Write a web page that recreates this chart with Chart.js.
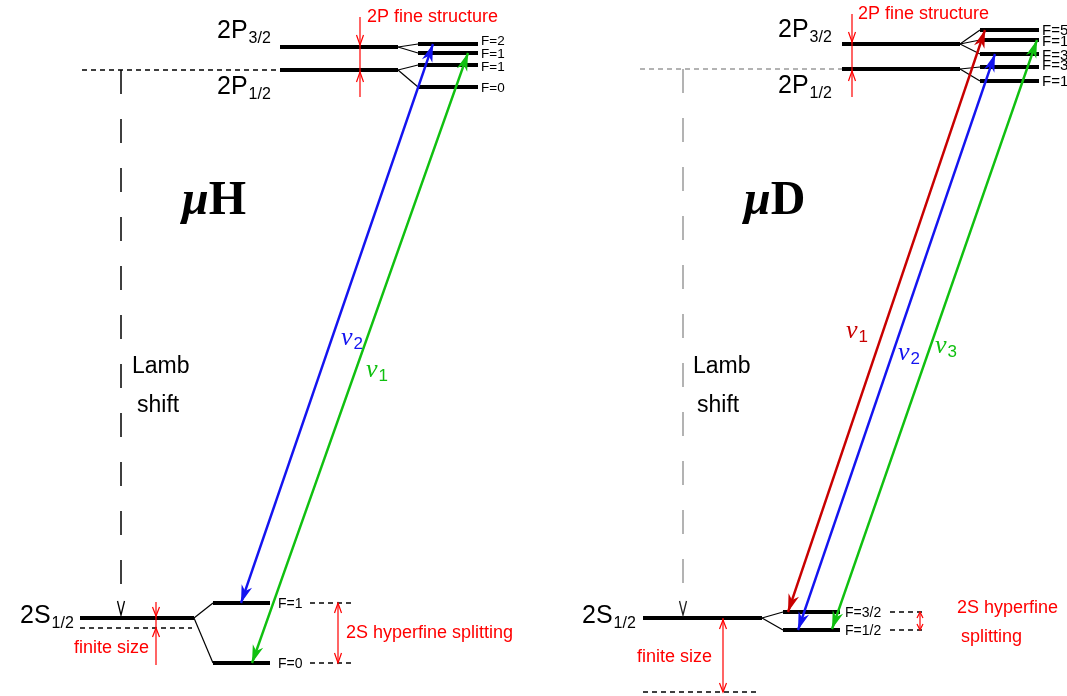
<!DOCTYPE html>
<html>
<head>
<meta charset="utf-8">
<script src="https://cdn.jsdelivr.net/npm/chart.js@4/dist/chart.umd.min.js"></script>
<style>
  html, body { margin: 0; padding: 0; background: #fff; }
  canvas { display: block; }
</style>
</head>
<body>
<canvas id="levels" width="1067" height="696"></canvas>
<script>
// ---- muonic hydrogen (left) ----
// levels are [xStart, xEnd, y]
const hPFine = [[280, 398, 47], [280, 398, 70]];
const hPHfs = [[418, 478, 44], [418, 478, 53], [418, 478, 65], [418, 478, 87]];
const hPHfsParent = [0, 0, 1, 1];
const hPHfsLabels = ['F=2', 'F=1', 'F=1', 'F=0'];
const hS = [80, 194, 618];
const hSPoint = [80, 192, 628];
const hSHfs = [[213, 270, 603], [213, 270, 663]];
const hSHfsLabels = ['F=1', 'F=0'];
// transitions [x2S, y2S, x2P, y2P]
const hTransitions = [[241, 603, 433, 44], [252, 663, 468, 53]];
const hTransitionIdx = ['2', '1'];

// ---- muonic deuterium (right) ----
const dPFine = [[842, 960, 44], [842, 960, 69]];
const dPHfs = [[980, 1039, 30], [980, 1039, 40], [980, 1039, 54], [980, 1039, 67], [980, 1039, 81]];
const dPHfsParent = [0, 0, 0, 1, 1];
const dPHfsLabels = ['F=5/2', 'F=1/2', 'F=3/2', 'F=3/2', 'F=1/2'];
const dS = [643, 762, 618];
const dSPoint = [643, 757, 692];
const dSHfs = [[783, 840, 612], [783, 840, 630]];
const dSHfsLabels = ['F=3/2', 'F=1/2'];
const dTransitions = [[788, 612, 985, 30], [798, 630, 995, 54], [832, 629, 1037, 40]];
const dTransitionIdx = ['1', '2', '3'];

const BLUE = '#1414f0';
const GREEN = '#10c010';
const DARKRED = '#c80000';
const RED = '#ff0000';
const GREY = '#9a9a9a';
const SANS = '"Liberation Sans", Arial, sans-serif';
const SERIF = '"Liberation Serif", "Times New Roman", serif';

const hColors = [BLUE, GREEN];
const dColors = [DARKRED, BLUE, GREEN];

// one dataset per straight segment
const seg = (x1, y1, x2, y2, color, width, dash) => ({
  data: [{ x: x1, y: y1 }, { x: x2, y: y2 }],
  showLine: true,
  borderColor: color,
  borderWidth: width,
  borderDash: dash || [],
  borderCapStyle: 'butt',
  pointRadius: 0,
  pointHoverRadius: 0,
  fill: false,
  tension: 0,
});

const datasets = [];

// transitions on top
hTransitions.forEach((t, i) => datasets.push(seg(t[0], t[1], t[2], t[3], hColors[i], 2.4)));
dTransitions.forEach((t, i) => datasets.push(seg(t[0], t[1], t[2], t[3], dColors[i], 2.4)));

// red size markers
datasets.push(seg(360, 17, 360, 97, RED, 1.2));
datasets.push(seg(156, 602, 156, 665, RED, 1.2));
datasets.push(seg(338, 603, 338, 663, RED, 1.2));
datasets.push(seg(852, 14, 852, 97, RED, 1.2));
datasets.push(seg(723, 618, 723, 692, RED, 1.2));
datasets.push(seg(920, 612, 920, 630, RED, 1.2));

const addLevels = (levels) => levels.forEach(l => datasets.push(seg(l[0], l[2], l[1], l[2], '#000', 4)));
const addFans = (parents, children, parentIdx) =>
  children.forEach((c, i) => {
    const p = parents[parentIdx[i]];
    datasets.push(seg(p[1], p[2], c[0], c[2], '#000', 1.2));
  });

addLevels(hPFine); addLevels(hPHfs); addLevels([hS]); addLevels(hSHfs);
addLevels(dPFine); addLevels(dPHfs); addLevels([dS]); addLevels(dSHfs);
addFans(hPFine, hPHfs, hPHfsParent);
addFans([hS], hSHfs, [0, 0]);
addFans(dPFine, dPHfs, dPHfsParent);
addFans([dS], dSHfs, [0, 0]);

// dashed guides
const dash = [5, 4];
datasets.push(seg(82, hPFine[1][2], hPFine[1][0], hPFine[1][2], '#000', 1.4, dash));
datasets.push(seg(hSPoint[0], hSPoint[2], hSPoint[1], hSPoint[2], '#000', 1.4, dash));
hSHfs.forEach(l => datasets.push(seg(310, l[2], 353, l[2], '#000', 1.4, dash)));
datasets.push(seg(640, dPFine[1][2], dPFine[1][0], dPFine[1][2], GREY, 1.4, dash));
datasets.push(seg(dSPoint[0], dSPoint[2], dSPoint[1], dSPoint[2], '#000', 1.4, dash));
dSHfs.forEach(l => datasets.push(seg(890, l[2], 926, l[2], '#000', 1.4, dash)));

// Lamb shift verticals
datasets.push(seg(121, hPFine[1][2], 121, 604, '#000', 1.5, [24, 25]));
datasets.push(seg(683, dPFine[1][2], 683, 604, GREY, 1.5, [24, 25]));

function drawText(ctx, s, x, y, font, color, align) {
  ctx.font = font;
  ctx.fillStyle = color;
  ctx.textAlign = align || 'left';
  ctx.textBaseline = 'alphabetic';
  ctx.fillText(s, x, y);
}

function drawSub(ctx, main, sub, x, y, mainFont, subFont, color, drop) {
  ctx.font = mainFont;
  const w = ctx.measureText(main).width;
  drawText(ctx, main, x, y, mainFont, color);
  drawText(ctx, sub, x + w + 1, y + drop, subFont, color);
}

// notched filled arrowhead at (tx, ty) pointing away from (fx, fy)
function solidHead(ctx, fx, fy, tx, ty, color) {
  const len = Math.hypot(tx - fx, ty - fy);
  const ux = (tx - fx) / len, uy = (ty - fy) / len;
  const nx = -uy, ny = ux;
  const L = 18, Wd = 5.5;
  ctx.beginPath();
  ctx.moveTo(tx, ty);
  ctx.lineTo(tx - L * ux + Wd * nx, ty - L * uy + Wd * ny);
  ctx.lineTo(tx - 0.7 * L * ux, ty - 0.7 * L * uy);
  ctx.lineTo(tx - L * ux - Wd * nx, ty - L * uy - Wd * ny);
  ctx.closePath();
  ctx.fillStyle = color;
  ctx.fill();
}

// open V arrowhead, dir = +1 points down, -1 points up
function openHead(ctx, x, tipY, dir, color, len, half, width) {
  ctx.beginPath();
  ctx.moveTo(x - half, tipY - dir * len);
  ctx.lineTo(x, tipY);
  ctx.lineTo(x + half, tipY - dir * len);
  ctx.strokeStyle = color;
  ctx.lineWidth = width;
  ctx.stroke();
}

const decor = {
  id: 'decor',
  afterDatasetsDraw(chart) {
    const { ctx, scales } = chart;
    const px = v => scales.x.getPixelForValue(v);
    const py = v => scales.y.getPixelForValue(v);
    ctx.save();

    // transition arrowheads at both ends
    const heads = (list, colors) => list.forEach((t, i) => {
      solidHead(ctx, px(t[2]), py(t[3]), px(t[0]), py(t[1]), colors[i]);
      solidHead(ctx, px(t[0]), py(t[1]), px(t[2]), py(t[3]), colors[i]);
    });
    heads(hTransitions, hColors);
    heads(dTransitions, dColors);

    // red marker heads
    openHead(ctx, px(360), py(hPFine[0][2] - 2), 1, RED, 10, 3.5, 1.2);
    openHead(ctx, px(360), py(hPFine[1][2] + 2), -1, RED, 10, 3.5, 1.2);
    openHead(ctx, px(156), py(hS[2] - 2), 1, RED, 9, 3.5, 1.2);
    openHead(ctx, px(156), py(hSPoint[2]), -1, RED, 9, 3.5, 1.2);
    openHead(ctx, px(338), py(603), -1, RED, 10, 3.5, 1.2);
    openHead(ctx, px(338), py(663), 1, RED, 10, 3.5, 1.2);
    openHead(ctx, px(852), py(dPFine[0][2] - 2), 1, RED, 10, 3.5, 1.2);
    openHead(ctx, px(852), py(dPFine[1][2] + 2), -1, RED, 10, 3.5, 1.2);
    openHead(ctx, px(723), py(dS[2] + 2), -1, RED, 9, 3.5, 1.2);
    openHead(ctx, px(723), py(dSPoint[2]), 1, RED, 9, 3.5, 1.2);
    openHead(ctx, px(920), py(612), -1, RED, 6, 3, 1.2);
    openHead(ctx, px(920), py(630), 1, RED, 6, 3, 1.2);

    // Lamb shift V heads
    openHead(ctx, px(121), py(615), 1, '#000', 14, 3.5, 1.3);
    openHead(ctx, px(683), py(615), 1, '#222', 14, 3.5, 1.3);

    // level names
    const big = '25px ' + SANS, small = '16px ' + SANS;
    drawSub(ctx, '2P', '3/2', 217, 38, big, small, '#000', 5);
    drawSub(ctx, '2P', '1/2', 217, 94, big, small, '#000', 5);
    drawSub(ctx, '2S', '1/2', 20, 623, big, small, '#000', 5);
    drawSub(ctx, '2P', '3/2', 778, 37, big, small, '#000', 5);
    drawSub(ctx, '2P', '1/2', 778, 93, big, small, '#000', 5);
    drawSub(ctx, '2S', '1/2', 582, 623, big, small, '#000', 5);

    // hyperfine F labels (upper ones nudged apart where levels crowd)
    const fFont = '13.5px ' + SANS, fFontS = '14px ' + SANS, fFontD = '15px ' + SANS;
    const hNudge = [-4, 0, 1, 0];
    hPHfs.forEach((l, i) => drawText(ctx, hPHfsLabels[i], px(l[1]) + 3, py(l[2]) + 5 + hNudge[i], fFont, '#000'));
    hSHfs.forEach((l, i) => drawText(ctx, hSHfsLabels[i], px(l[1]) + 8, py(l[2]) + 5, fFontS, '#000'));
    const dNudge = [0, 1, 1, -2, 0];
    dPHfs.forEach((l, i) => drawText(ctx, dPHfsLabels[i], px(l[1]) + 3, py(l[2]) + 5 + dNudge[i], fFontD, '#000'));
    dSHfs.forEach((l, i) => drawText(ctx, dSHfsLabels[i], px(l[1]) + 5, py(l[2]) + 5, fFontS, '#000'));

    // red annotations
    const rFont = '18px ' + SANS;
    drawText(ctx, '2P fine structure', 367, 22, rFont, RED);
    drawText(ctx, '2S hyperfine splitting', 346, 638, rFont, RED);
    drawText(ctx, 'finite size', 74, 653, rFont, RED);
    drawText(ctx, '2P fine structure', 858, 19, rFont, RED);
    drawText(ctx, '2S hyperfine', 957, 613, rFont, RED);
    drawText(ctx, 'splitting', 961, 642, rFont, RED);
    drawText(ctx, 'finite size', 637, 662, rFont, RED);

    // Lamb shift captions
    const lFont = '23px ' + SANS;
    drawText(ctx, 'Lamb', 132, 373, lFont, '#000');
    drawText(ctx, 'shift', 137, 412, lFont, '#000');
    drawText(ctx, 'Lamb', 693, 373, lFont, '#000');
    drawText(ctx, 'shift', 697, 412, lFont, '#000');

    // atom names
    const muFont = 'italic bold 48px ' + SERIF, atomFont = 'bold 48px ' + SERIF;
    ctx.font = muFont;
    const w = ctx.measureText('\u03bc').width;
    drawText(ctx, '\u03bc', 182, 214, muFont, '#000');
    drawText(ctx, 'H', 182 + w, 214, atomFont, '#000');
    drawText(ctx, '\u03bc', 744, 214, muFont, '#000');
    drawText(ctx, 'D', 744 + w, 214, atomFont, '#000');

    // transition frequencies
    const nuFont = 'italic 26px ' + SERIF, idxFont = '17px ' + SANS;
    const nuPos = [[341, 345], [366, 377]];
    hTransitions.forEach((t, i) => drawSub(ctx, '\u03bd', hTransitionIdx[i], nuPos[i][0], nuPos[i][1], nuFont, idxFont, hColors[i], 4));
    const nuPosD = [[846, 338], [898, 360], [935, 353]];
    dTransitions.forEach((t, i) => drawSub(ctx, '\u03bd', dTransitionIdx[i], nuPosD[i][0], nuPosD[i][1], nuFont, idxFont, dColors[i], 4));

    ctx.restore();
  },
};

new Chart(document.getElementById('levels'), {
  type: 'scatter',
  data: { datasets },
  options: {
    responsive: false,
    animation: false,
    events: [],
    layout: { padding: 0 },
    plugins: { legend: { display: false }, tooltip: { enabled: false } },
    scales: {
      x: { type: 'linear', min: 0, max: 1067, display: false },
      y: { type: 'linear', min: 0, max: 696, reverse: true, display: false },
    },
  },
  plugins: [decor],
});
</script>
</body>
</html>
